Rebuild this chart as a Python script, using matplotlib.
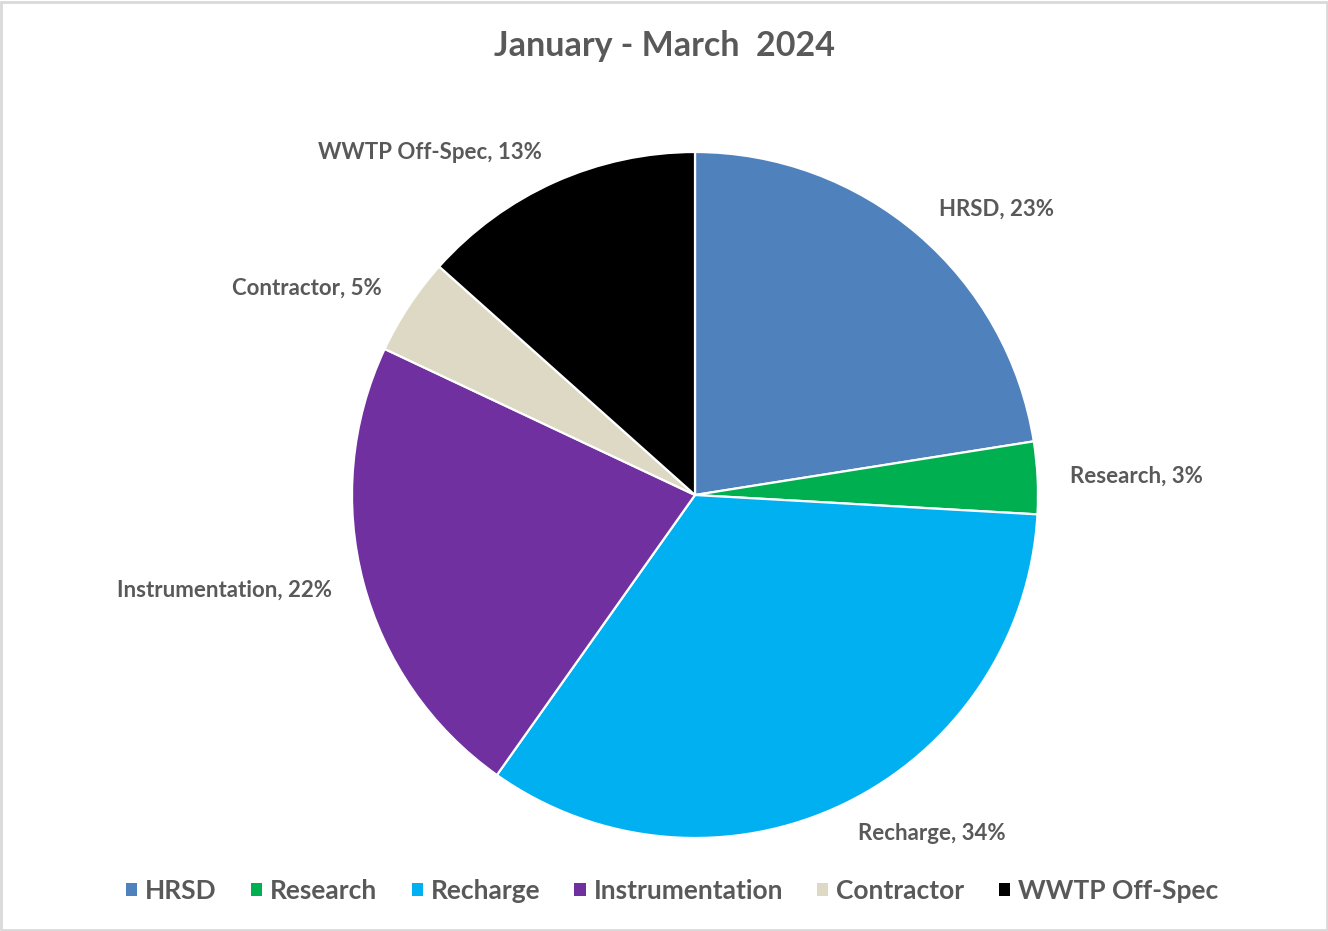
import matplotlib
matplotlib.use('Agg')
import matplotlib.pyplot as plt
from matplotlib.patches import Rectangle

# datos
categorias = ['HRSD', 'Research', 'Recharge', 'Instrumentation', 'Contractor', 'WWTP Off-Spec']
porcentajes = [22.5, 3.4, 33.9, 22.2, 4.6, 13.4]
etiquetas_pct = ['23%', '3%', '34%', '22%', '5%', '13%']
colores = ['#4F81BD', '#00B050', '#00B0F0', '#7030A0', '#DDD9C4', '#000000']
titulo = 'January - March  2024'

gris = '#595959'
plt.rcParams['font.family'] = ['Lato', 'DejaVu Sans']
plt.rcParams['font.weight'] = 'bold'

fig = plt.figure(figsize=(13.28, 9.31), dpi=100)
W, H = 1328, 931
cx, cy, R = 695, 495, 343
ax = fig.add_axes([(cx - R) / W, (H - cy - R) / H, 2 * R / W, 2 * R / H])

etiquetas = [f'{c}, {p}' for c, p in zip(categorias, etiquetas_pct)]
wedges, textos = ax.pie(porcentajes, labels=etiquetas, colors=colores, startangle=90,
                        counterclock=False, labeldistance=1.095,
                        wedgeprops=dict(edgecolor='white', linewidth=1.6),
                        textprops=dict(color=gris, fontsize=16, fontweight='bold'))
ax.set_xlim(-1, 1)
ax.set_ylim(-1, 1)
ax.set_aspect('auto')

fig.text(665 / W, 1 - 46 / H, titulo, ha='center', va='center', fontsize=24.5,
         fontweight='bold', color=gris)

leg = fig.legend(wedges, categorias, loc='center', bbox_to_anchor=(672 / W, 1 - 891 / H),
                 ncol=6, frameon=False, handlelength=0.42, handleheight=0.42,
                 handletextpad=0.3, columnspacing=1.3,
                 prop=dict(size=19, weight='bold'))
for t in leg.get_texts():
    t.set_color(gris)
for h in leg.legend_handles:
    h.set_linewidth(0)

fig.patches.append(Rectangle((0.001, 0.001), 0.998, 0.997, transform=fig.transFigure,
                             fill=False, edgecolor='#d9d9d9', linewidth=2))

plt.savefig('out.png', dpi=100)
